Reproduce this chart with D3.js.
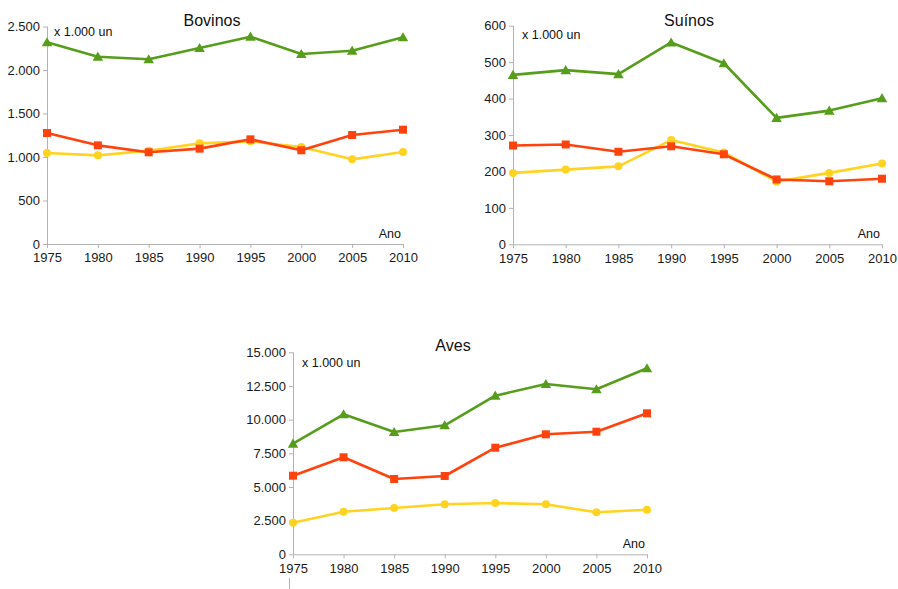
<!DOCTYPE html>
<html>
<head>
<meta charset="utf-8">
<script src="https://cdn.jsdelivr.net/npm/d3@7"></script>
<style>
  html, body { margin: 0; padding: 0; background: #fff; }
  svg { display: block; font-family: "Liberation Sans", Arial, sans-serif; }
</style>
</head>
<body>
<svg id="chart" width="898" height="589"></svg>
<script>
// Census years on the horizontal axis
const years = [1975, 1980, 1985, 1990, 1995, 2000, 2005, 2010];

// Herd sizes, thousands of head
const bovinosVerde    = [2318, 2153, 2123, 2253, 2383, 2184, 2222, 2376];
const bovinosVermelho = [1276, 1134, 1054, 1096, 1203, 1077, 1253, 1314];
const bovinosAmarelo  = [1046, 1019, 1072, 1157, 1180, 1115, 973, 1057];

const suinosVerde    = [465, 478, 467, 554, 497, 347, 367, 401];
const suinosVermelho = [271, 274, 254, 269, 247, 178, 173, 180];
const suinosAmarelo  = [196, 205, 214, 286, 252, 172, 196, 222];

const avesVerde    = [8213, 10396, 9082, 9579, 11777, 12646, 12252, 13812];
const avesVermelho = [5837, 7203, 5592, 5814, 7916, 8911, 9104, 10470];
const avesAmarelo  = [2347, 3163, 3438, 3713, 3809, 3713, 3119, 3312];

// Y tick values per panel
const bovinosTicks = [0, 500, 1000, 1500, 2000, 2500];
const suinosTicks  = [0, 100, 200, 300, 400, 500, 600];
const avesTicks    = [0, 2500, 5000, 7500, 10000, 12500, 15000];

const titles = ["Bovinos", "Suínos", "Aves"];
const unitLabel = "x 1.000 un";
const axisLabel = "Ano";

const colors = { verde: "#579d1c", vermelho: "#ff420e", amarelo: "#ffd320" };

const ptBR = d3.formatLocale({ decimal: ",", thousands: ".", grouping: [3], currency: ["R$", ""] });
const fmt = ptBR.format(",d");

const svg = d3.select("#chart");

function panel(cfg) {
  const x = d3.scalePoint().domain(years).range([cfg.left, cfg.right]);
  const y = d3.scaleLinear().domain([0, cfg.max]).range([cfg.bottom, cfg.top]);
  const g = svg.append("g");

  // axes
  const yAxis = d3.axisLeft(y).tickValues(cfg.ticks).tickFormat(fmt).tickSize(4).tickPadding(3);
  const gy = g.append("g").attr("transform", `translate(${cfg.left},0)`).call(yAxis);
  const xAxis = d3.axisBottom(x).tickSize(4).tickPadding(5).tickFormat(d3.format("d"));
  const gx = g.append("g").attr("transform", `translate(0,${cfg.bottom})`).call(xAxis);
  [gx, gy].forEach(a => {
    a.selectAll("path.domain").attr("stroke", "#b3b3b3").attr("stroke-width", 1);
    a.selectAll(".tick line").attr("stroke", "#b3b3b3");
    a.selectAll(".tick text").attr("fill", "#1a1a1a").style("font-size", "13px")
      .style("font-family", "'Liberation Sans', Arial, sans-serif");
  });
  gx.select("path.domain").attr("d", `M${cfg.left},0.5H${cfg.right}`);
  gy.select("path.domain").attr("d", `M0.5,${cfg.bottom}V${cfg.top}`);

  // series lines and markers
  const line = d3.line().x((d, i) => x(years[i])).y(d => y(d));
  const series = [
    { data: cfg.amarelo, color: colors.amarelo, shape: "circle" },
    { data: cfg.vermelho, color: colors.vermelho, shape: "square" },
    { data: cfg.verde, color: colors.verde, shape: "triangle" }
  ];
  series.forEach(s => {
    g.append("path").datum(s.data).attr("d", line)
      .attr("fill", "none").attr("stroke", s.color).attr("stroke-width", 2.6)
      .attr("stroke-linejoin", "round");
    const sym = s.shape === "circle" ? d3.symbolCircle : s.shape === "square" ? d3.symbolSquare : d3.symbolTriangle;
    const size = s.shape === "circle" ? 50 : s.shape === "square" ? 64 : 48;
    g.selectAll(null).data(s.data).enter().append("path")
      .attr("d", d3.symbol().type(sym).size(size))
      .attr("transform", (d, i) => `translate(${x(years[i])},${y(d) + (s.shape === "triangle" ? 1 : 0)})`)
      .attr("fill", s.color);
  });

  // labels
  g.append("text").attr("x", cfg.titleX).attr("y", cfg.titleY).attr("text-anchor", "middle")
    .style("font-size", "16px").attr("fill", "#111").text(cfg.title);
  g.append("text").attr("x", cfg.unitX).attr("y", cfg.unitY)
    .style("font-size", "12.5px").attr("fill", "#111").text(unitLabel);
  g.append("text").attr("x", cfg.right - 2).attr("y", cfg.bottom - 6.5).attr("text-anchor", "end")
    .style("font-size", "12.5px").attr("fill", "#111").text(axisLabel);
  return g;
}

panel({ title: titles[0], left: 47, right: 403, top: 26.5, bottom: 244, max: 2500, ticks: bovinosTicks,
  verde: bovinosVerde, vermelho: bovinosVermelho, amarelo: bovinosAmarelo,
  titleX: 212, titleY: 26, unitX: 54, unitY: 35.5 });

panel({ title: titles[1], left: 513, right: 882, top: 25.7, bottom: 244.3, max: 600, ticks: suinosTicks,
  verde: suinosVerde, vermelho: suinosVermelho, amarelo: suinosAmarelo,
  titleX: 689, titleY: 26, unitX: 522, unitY: 38.5 });

panel({ title: titles[2], left: 293, right: 647, top: 352.3, bottom: 554.3, max: 15000, ticks: avesTicks,
  verde: avesVerde, vermelho: avesVermelho, amarelo: avesAmarelo,
  titleX: 453, titleY: 351, unitX: 302, unitY: 367 });

// short gray stub under the lower panel's axis
svg.append("line").attr("x1", 289.5).attr("x2", 289.5).attr("y1", 578).attr("y2", 589)
  .attr("stroke", "#b3b3b3").attr("stroke-width", 1);
</script>
</body>
</html>
